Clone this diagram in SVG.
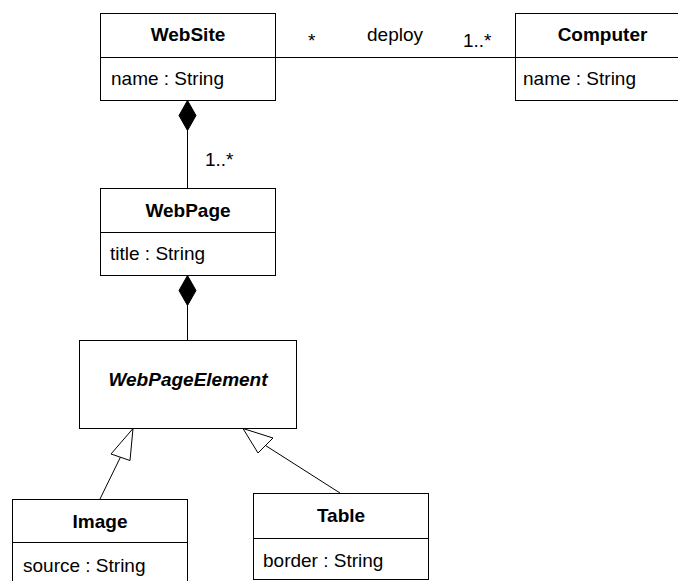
<svg xmlns="http://www.w3.org/2000/svg" width="678" height="581" viewBox="0 0 678 581">
<style>
.box{fill:#fff;stroke:#000;stroke-width:1}
.ln{fill:none;stroke:#000;stroke-width:1}
.t{font-family:"Liberation Sans",Arial,sans-serif;font-size:19px;fill:#000}
.b{font-weight:bold;text-anchor:middle}
.i{font-style:italic}
.dia{fill:#000;stroke:#000;stroke-width:1}
.tri{fill:#fff;stroke:#000;stroke-width:1}
</style>
<rect width="678" height="581" fill="#fff"/>
<g id="connectors">
<line class="ln" x1="275.5" y1="57.5" x2="515.5" y2="57.5"/>
<text class="t" x="308" y="47">*</text>
<text class="t" x="367" y="41">deploy</text>
<text class="t" x="463" y="47">1..*</text>
<line class="ln" x1="187.5" y1="130" x2="187.5" y2="188"/>
<polygon class="dia" points="187.5,100.5 196,115.5 187.5,130.5 179,115.5"/>
<text class="t" x="205" y="166">1..*</text>
<line class="ln" x1="187.5" y1="305" x2="187.5" y2="341"/>
<polygon class="dia" points="187.5,275.5 196,290.5 187.5,305.5 179,290.5"/>
<line class="ln" x1="100" y1="499" x2="120.5" y2="457"/>
<polygon class="tri" points="133,428.5 111,454 130,460.5"/>
<line class="ln" x1="340" y1="493" x2="265.5" y2="445.5"/>
<polygon class="tri" points="243,428.5 258,453 273,438"/>
</g>
<g id="WebSite">
<rect class="box" x="100.5" y="13.5" width="175" height="87"/>
<line class="ln" x1="100.5" y1="57.5" x2="275.5" y2="57.5"/>
<text class="t b" x="188" y="41">WebSite</text>
<text class="t" x="111" y="85">name : String</text>
</g>
<g id="Computer">
<rect class="box" x="515.5" y="13.5" width="175" height="87"/>
<line class="ln" x1="515.5" y1="57.5" x2="690.5" y2="57.5"/>
<text class="t b" x="602.5" y="41">Computer</text>
<text class="t" x="523" y="85">name : String</text>
</g>
<g id="WebPage">
<rect class="box" x="100.5" y="188.5" width="175" height="87"/>
<line class="ln" x1="100.5" y1="232.5" x2="275.5" y2="232.5"/>
<text class="t b" x="188" y="217">WebPage</text>
<text class="t" x="110" y="260">title : String</text>
</g>
<g id="WebPageElement">
<rect class="box" x="79.5" y="340.5" width="217" height="88"/>
<text class="t b i" x="188" y="386">WebPageElement</text>
</g>
<g id="Image">
<rect class="box" x="12.5" y="499.5" width="175" height="87"/>
<line class="ln" x1="12.5" y1="542.5" x2="187.5" y2="542.5"/>
<text class="t b" x="100" y="528">Image</text>
<text class="t" x="23" y="572">source : String</text>
</g>
<g id="Table">
<rect class="box" x="253.5" y="493.5" width="175" height="86"/>
<line class="ln" x1="253.5" y1="538.5" x2="428.5" y2="538.5"/>
<text class="t b" x="341" y="522">Table</text>
<text class="t" x="263" y="567">border : String</text>
</g>
</svg>
